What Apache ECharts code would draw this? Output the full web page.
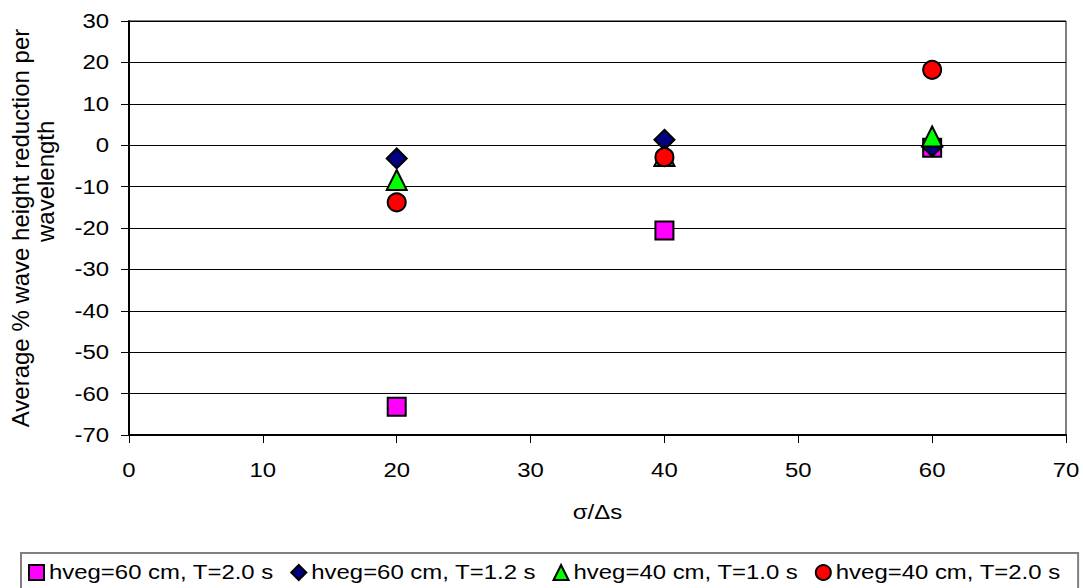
<!DOCTYPE html>
<html>
<head>
<meta charset="utf-8">
<script src="https://cdn.jsdelivr.net/npm/echarts@6/dist/echarts.min.js"></script>
<style>
  html, body { margin: 0; padding: 0; background: #fff; }
  #chart { width: 1083px; height: 588px; }
</style>
</head>
<body>
<div id="chart"></div>
<script>
// Grid spacing ratio (sigma / delta s)
const ratios = [20, 40, 60];

// Average % wave height reduction per wavelength, one array per case
const h60T20 = [-63.2, -20.6, -0.6];
const h60T12 = [-3.2, 1.3, -0.3];
const h40T10 = [-8.4, -2.6, 2.1];
const h40T20 = [-13.8, -2.9, 18.2];

const seriesNames = [
  'hveg=60 cm, T=2.0 s',
  'hveg=60 cm, T=1.2 s',
  'hveg=40 cm, T=1.0 s',
  'hveg=40 cm, T=2.0 s'
];

const FONT = 'Liberation Sans, Arial, sans-serif';
// Horizontal widening applied to label glyphs (wide-set Arial look)
const TEXT_SX = 1.14;
const NBSP = '\u00A0';

function pairs(values) {
  return ratios.map((r, i) => [r, values[i]]);
}

function scatter(name, values, symbol, color, size, z) {
  return {
    name: name,
    type: 'scatter',
    data: pairs(values),
    symbol: symbol,
    symbolSize: size,
    z: z,
    itemStyle: { color: color, opacity: 1, borderColor: '#000', borderWidth: 2 },
    emphasis: { disabled: true }
  };
}

const dom = document.getElementById('chart');
const chart = echarts.init(dom, null, { renderer: 'svg' });
chart.setOption({
  animation: false,
  backgroundColor: '#fff',
  grid: {
    left: 128, top: 21, right: 17, bottom: 153,
    show: true, borderColor: '#000', borderWidth: 1
  },
  xAxis: {
    type: 'value',
    min: 0, max: 70, interval: 10,
    name: 'σ/Δs',
    nameLocation: 'middle',
    nameGap: 66,
    nameTextStyle: { fontFamily: FONT, fontSize: 21, color: '#000' },
    axisLine: { show: true, onZero: false, lineStyle: { color: '#000', width: 2 } },
    axisTick: { show: true, length: 8, lineStyle: { color: '#000' } },
    axisLabel: { fontFamily: FONT, fontSize: 21, color: '#000', margin: 24 },
    splitLine: { show: false }
  },
  yAxis: {
    type: 'value',
    min: -70, max: 30, interval: 10,
    name: 'Average % wave height reduction per\n' + NBSP.repeat(14) + 'wavelength',
    nameLocation: 'middle',
    nameRotate: 90,
    nameGap: 71,
    nameTextStyle: { fontFamily: FONT, fontSize: 24, color: '#000', lineHeight: 25 },
    axisLine: { show: true, onZero: false, lineStyle: { color: '#000', width: 2 } },
    axisTick: { show: true, length: 8, lineStyle: { color: '#000' } },
    axisLabel: { fontFamily: FONT, fontSize: 21, color: '#000', margin: 20 },
    splitLine: { show: true, lineStyle: { color: '#000', width: 1 } }
  },
  legend: {
    top: 553,
    left: 21,
    padding: [9, 45, 9, 7],
    borderColor: '#808080',
    borderWidth: 2,
    itemGap: 44,
    itemWidth: 15,
    itemHeight: 15,
    textStyle: { fontFamily: FONT, fontSize: 21, color: '#000' },
    data: seriesNames
  },
  series: [
    scatter(seriesNames[0], h60T20, 'rect', '#ff00ff', 18, 3),
    scatter(seriesNames[1], h60T12, 'diamond', '#000080', 20, 4),
    scatter(seriesNames[2], h40T10, 'triangle', '#00ff00', 20, 5),
    scatter(seriesNames[3], h40T20, 'circle', '#ff0000', 18, 6)
  ]
});

// Widen tick, legend and x-axis title glyphs about their own anchor point
function widenLabels() {
  dom.querySelectorAll('svg text').forEach(function (t) {
    if (t.getAttribute('data-wide')) return;
    if (/Average|wavelength/.test(t.textContent)) return;
    const x = parseFloat(t.getAttribute('x') || '0');
    const y = parseFloat(t.getAttribute('y') || '0');
    const tr = t.getAttribute('transform') || '';
    t.setAttribute('transform',
      tr + ' translate(' + x + ' ' + y + ') scale(' + TEXT_SX + ' 1) translate(' + (-x) + ' ' + (-y) + ')');
    t.setAttribute('data-wide', '1');
  });
}
chart.on('finished', widenLabels);
widenLabels();
setTimeout(widenLabels, 0);
</script>
</body>
</html>
